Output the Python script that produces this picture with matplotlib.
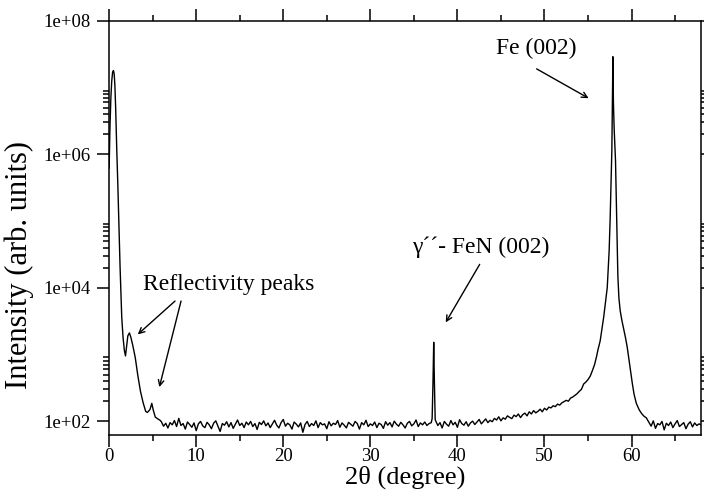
import numpy as np
import matplotlib
matplotlib.use('Agg')
import matplotlib.pyplot as plt
from matplotlib.ticker import FixedLocator, NullFormatter

# low angle reflectivity part (2theta, counts)
refl_tt = [0.0, 0.1, 0.2, 0.3, 0.4, 0.5, 0.58, 0.66, 0.75, 0.88, 1.0, 1.1, 1.26, 1.45,
           1.6, 1.75, 1.88, 2.0, 2.15, 2.33, 2.5, 2.7, 3.0, 3.3, 3.6, 3.9, 4.2, 4.4,
           4.7, 4.9, 5.05, 5.3, 5.6, 5.85]
refl_counts = [6.2e5, 2.6e6, 7.0e6, 1.25e7, 1.7e7, 1.8e7, 1.6e7, 1.1e7, 5.0e6, 1.15e6,
               3.5e5, 1.1e5, 2.0e4, 3600, 1800, 1150, 950, 1300, 1900, 2100, 1800, 1400,
               900, 480, 280, 190, 140, 135, 150, 185, 150, 115, 108, 103]

# flat background up to the FeN peak
bg1_tt = [6.0, 6.25, 6.5, 6.75, 7.0, 7.25, 7.5, 7.75,
          8.0, 8.25, 8.5, 8.75, 9.0, 9.25, 9.5, 9.75,
          10.0, 10.25, 10.5, 10.75, 11.0, 11.25, 11.5, 11.75,
          12.0, 12.25, 12.5, 12.75, 13.0, 13.25, 13.5, 13.75,
          14.0, 14.25, 14.5, 14.75, 15.0, 15.25, 15.5, 15.75,
          16.0, 16.25, 16.5, 16.75, 17.0, 17.25, 17.5, 17.75,
          18.0, 18.25, 18.5, 18.75, 19.0, 19.25, 19.5, 19.75,
          20.0, 20.25, 20.5, 20.75, 21.0, 21.25, 21.5, 21.75,
          22.0, 22.25, 22.5, 22.75, 23.0, 23.25, 23.5, 23.75,
          24.0, 24.25, 24.5, 24.75, 25.0, 25.25, 25.5, 25.75,
          26.0, 26.25, 26.5, 26.75, 27.0, 27.25, 27.5, 27.75,
          28.0, 28.25, 28.5, 28.75, 29.0, 29.25, 29.5, 29.75,
          30.0, 30.25, 30.5, 30.75, 31.0, 31.25, 31.5, 31.75,
          32.0, 32.25, 32.5, 32.75, 33.0, 33.25, 33.5, 33.75,
          34.0, 34.25, 34.5, 34.75, 35.0, 35.25, 35.5, 35.75,
          36.0, 36.25, 36.5, 36.75, 37.0]
bg1_counts = [98, 84, 93, 79, 95, 88, 102, 83,
              110, 86, 92, 76, 97, 89, 81, 94,
              72, 91, 99, 85, 80, 96, 88, 77,
              93, 101, 84, 70, 92, 87, 98, 82,
              95, 78, 90, 104, 86, 93, 80, 97,
              88, 99, 83, 92, 75, 96, 89, 101,
              85, 94, 80, 91, 103, 87, 79, 95,
              106, 84, 93, 88, 76, 97, 90, 82,
              94, 68, 89, 99, 83, 92, 86, 101,
              80, 95, 88, 91, 77, 98, 85, 93,
              89, 102, 81, 94, 87, 79, 96, 90,
              84, 99, 92, 76, 95, 88, 103, 83,
              91, 86, 97, 80, 93, 89, 78, 98,
              87, 95, 82, 100, 90, 84, 96, 88,
              79, 93, 99, 85, 91, 104, 83, 94,
              88, 97, 86, 92, 95]

# gamma'' FeN (002) peak
fen_tt = [37.1, 37.2, 37.28, 37.36, 37.45]
fen_counts = [110, 400, 1520, 380, 105]

# background rising towards Fe (002)
bg2_tt = [37.75, 38.0, 38.25, 38.5, 38.75, 39.0, 39.25, 39.5, 39.75,
          40.0, 40.25, 40.5, 40.75, 41.0, 41.25, 41.5, 41.75,
          42.0, 42.25, 42.5, 42.75, 43.0, 43.25, 43.5, 43.75,
          44.0, 44.25, 44.5, 44.75, 45.0, 45.25, 45.5, 45.75,
          46.0, 46.25, 46.5, 46.75, 47.0, 47.25, 47.5, 47.75,
          48.0, 48.25, 48.5, 48.75, 49.0, 49.25, 49.5, 49.75,
          50.0, 50.25, 50.5, 50.75, 51.0, 51.25, 51.5, 51.75,
          52.0, 52.25, 52.5, 52.75, 53.0, 53.25, 53.5, 53.75,
          54.0, 54.25, 54.5, 54.75, 55.0]
bg2_counts = [86, 95, 79, 99, 90, 84, 102, 88, 96,
              81, 105, 92, 87, 98, 84, 94, 100,
              89, 97, 106, 91, 99, 108, 95, 103,
              98, 110, 104, 116, 101, 112, 107, 120,
              114, 109, 123, 117, 128, 113, 125, 132,
              120, 138, 128, 144, 133, 140, 151, 138,
              156, 147, 162, 158, 170, 165, 180, 174,
              188, 196, 205, 199, 222, 230, 244, 258,
              280, 300, 360, 385, 420]

# Fe (002) peak
fe_tt = [55.25, 55.5, 55.75, 56.0, 56.13, 56.4, 56.6, 56.8, 57.0, 57.21, 57.43, 57.55,
         57.65, 57.74, 57.8, 57.86, 57.92, 58.0, 58.08, 58.16, 58.25, 58.33, 58.43, 58.55,
         58.7, 58.9, 59.1, 59.3, 59.5, 59.7, 59.9, 60.1, 60.3, 60.55, 60.9, 61.2, 61.45, 61.7]
fe_counts = [470, 570, 700, 950, 1150, 1600, 2400, 3600, 6000, 1.0e4, 3.6e4, 1.15e5,
             4.0e5, 1.15e6, 6.0e6, 2.9e7, 6.0e6, 2.5e6, 1.4e6, 8.0e5, 2.0e5, 5.0e4, 1.5e4, 7000,
             4500, 3200, 2400, 1800, 1300, 850, 550, 360, 250, 185, 146, 128, 118, 112]

# background after the Fe peak
bg3_tt = [62.0, 62.25, 62.5, 62.75, 63.0, 63.25, 63.5, 63.75,
          64.0, 64.25, 64.5, 64.75, 65.0, 65.25, 65.5, 65.75,
          66.0, 66.25, 66.5, 66.75, 67.0, 67.25, 67.5, 67.75, 68.0]
bg3_counts = [96, 84, 101, 78, 92, 88, 99, 74,
              93, 86, 97, 80, 91, 102, 83, 89,
              95, 77, 90, 98, 82, 94, 86, 91, 88]

two_theta = np.array(refl_tt + bg1_tt + fen_tt + bg2_tt + fe_tt + bg3_tt)
intensity = np.array(refl_counts + bg1_counts + fen_counts + bg2_counts + fe_counts + bg3_counts)

plt.rcParams['font.family'] = ['Liberation Serif', 'DejaVu Serif']

fig = plt.figure(figsize=(7.04, 4.96), dpi=100)
ax = fig.add_axes([0.155, 0.123, 0.841, 0.835])

ax.plot(two_theta, intensity, color='black', lw=1.0)

ax.set_yscale('log')
ax.set_xlim(0, 68)
ax.set_ylim(62, 1e8)

# ticks like the original (grace style)
ax.set_xticks([0, 10, 20, 30, 40, 50, 60])
ax.xaxis.set_minor_locator(FixedLocator([5, 15, 25, 35, 45, 55, 65]))
ax.set_yticks([1e2, 1e4, 1e6, 1e8])
ax.set_yticklabels(['1e+02', '1e+04', '1e+06', '1e+08'])
minor_y = [k * 10.0 ** e for e in (2, 4, 6) for k in range(2, 10)]
ax.yaxis.set_minor_locator(FixedLocator(minor_y))
ax.yaxis.set_minor_formatter(NullFormatter())

ax.tick_params(which='both', direction='out', top=True, right=True, width=1.1, labelsize=13.5)
ax.tick_params(which='major', length=8.5)
ax.tick_params(which='minor', length=4)
ax.tick_params(axis='x', which='major', pad=1)
ax.tick_params(axis='y', which='major', pad=5)
for s in ax.spines.values():
    s.set_linewidth(1.1)

ax.set_xlabel('2θ (degree)', fontsize=19, labelpad=0)
ax.set_ylabel('Intensity (arb. units)', fontsize=22)
ax.yaxis.set_label_coords(-0.127, 0.41)

# annotations
arr = dict(arrowstyle='->', color='black', lw=1.0, shrinkA=0, shrinkB=0)
ax.text(49.1, 10 ** 7.59, 'Fe (002)', fontsize=17, ha='center', va='center')
ax.annotate('', xy=(55.07, 10 ** 6.84), xytext=(49.1, 10 ** 7.28), arrowprops=arr)

ax.text(42.68, 10 ** 4.61, 'γ´´- FeN (002)', fontsize=17, ha='center', va='center')
ax.annotate('', xy=(38.66, 10 ** 3.48), xytext=(42.56, 10 ** 4.35), arrowprops=arr)

ax.text(13.77, 10 ** 4.05, 'Reflectivity peaks', fontsize=17, ha='center', va='center')
ax.annotate('', xy=(3.29, 10 ** 3.30), xytext=(7.57, 10 ** 3.80), arrowprops=arr)
ax.annotate('', xy=(5.77, 10 ** 2.51), xytext=(8.26, 10 ** 3.80), arrowprops=arr)

fig.savefig('out.png', dpi=100)
